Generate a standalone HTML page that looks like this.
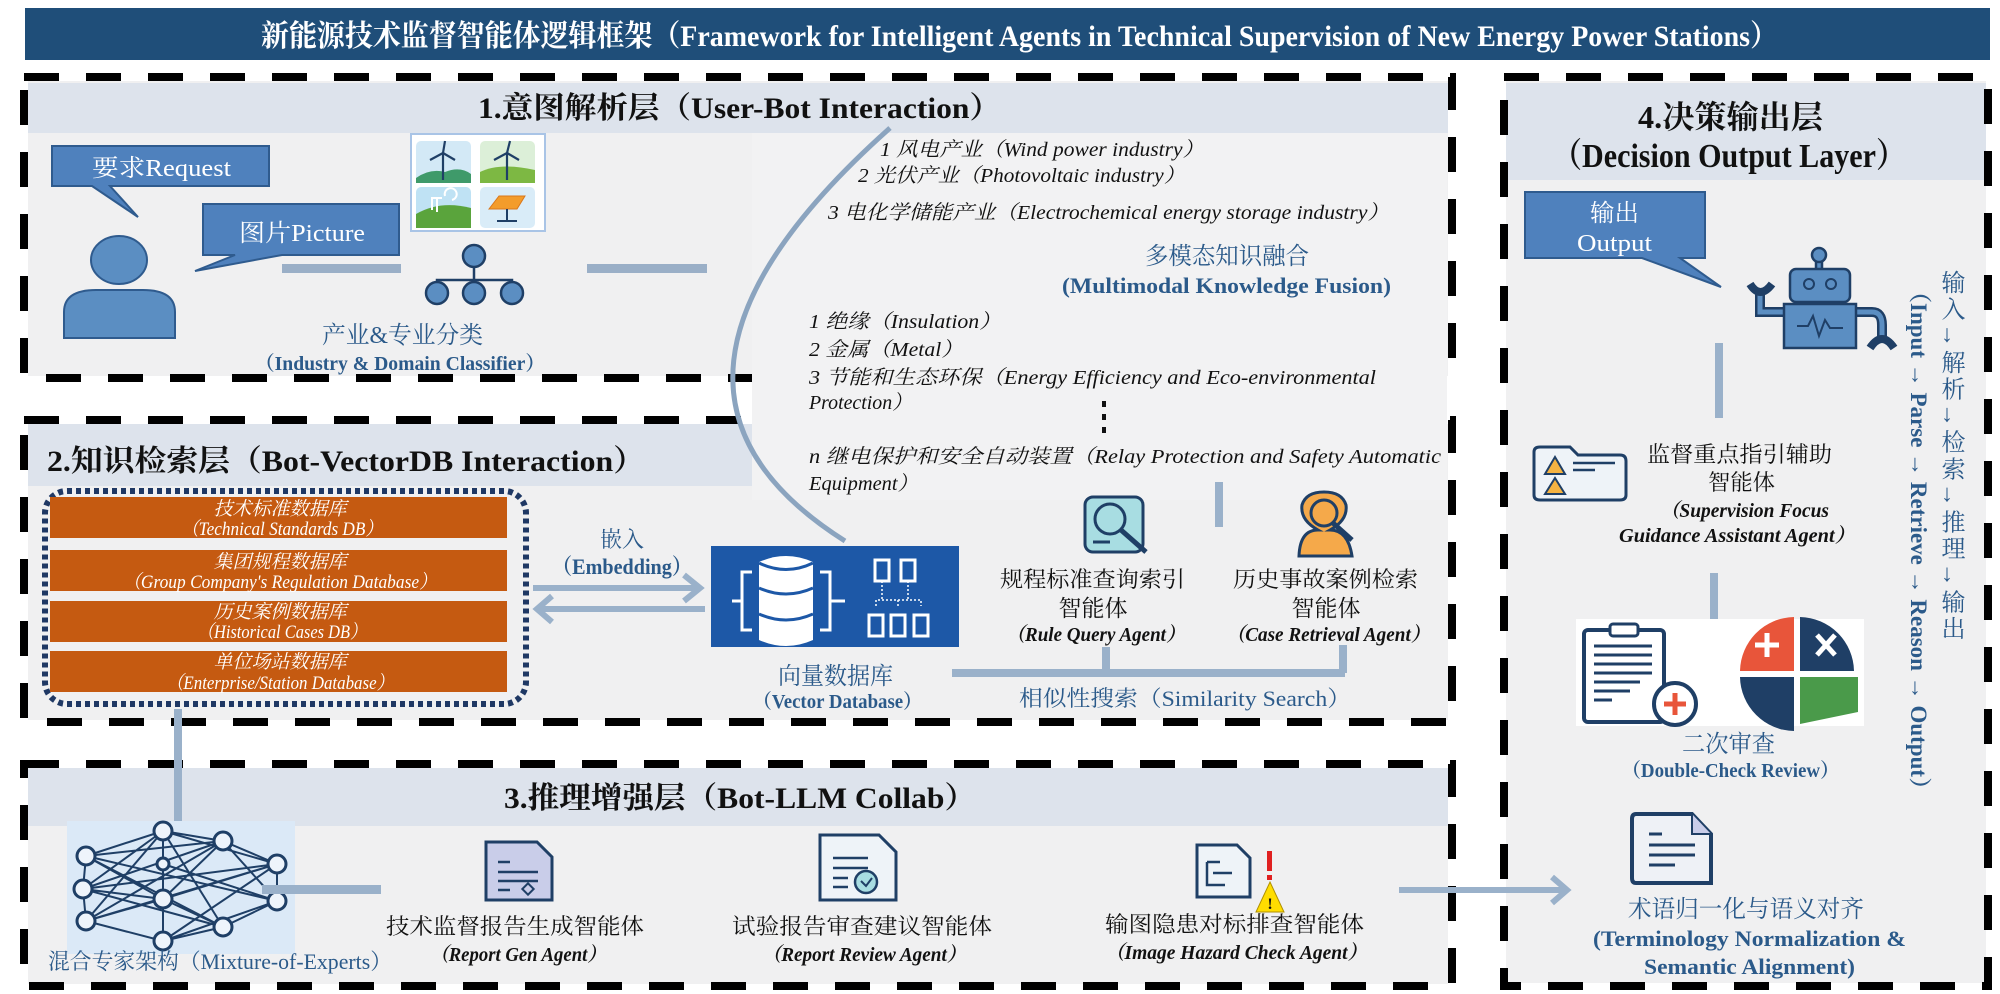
<!DOCTYPE html>
<html><head><meta charset="utf-8">
<style>
html,body{margin:0;padding:0;background:#fff;width:2000px;height:994px;overflow:hidden;position:relative}
svg{position:absolute;left:0;top:0}
text{font-family:"Liberation Serif","Noto Serif CJK SC",serif}
.b{font-weight:bold}
.i{font-style:italic}
.blue{fill:#2b5a8a}
.vt{position:absolute;writing-mode:vertical-rl;font-family:"Liberation Serif","Noto Serif CJK SC",serif;color:#2b5a8a;white-space:nowrap}
</style></head><body>
<svg width="2000" height="994" viewBox="0 0 2000 994" xmlns="http://www.w3.org/2000/svg">
<rect x="25" y="8" width="1965" height="52" fill="#1f4e79"/>
<text x="261" y="46" font-size="30" fill="#fff" class="b" textLength="1517" lengthAdjust="spacingAndGlyphs">新能源技术监督智能体逻辑框架（Framework for Intelligent Agents in Technical Supervision of New Energy Power Stations）</text>

<rect x="28" y="81" width="1420" height="295" fill="#f0f0f1"/>
<rect x="28" y="83" width="1420" height="50" fill="#dde3ec"/>
<rect x="28" y="424" width="1420" height="296" fill="#f0f0f1"/>
<rect x="28" y="424" width="724" height="62" fill="#dde3ec"/>
<rect x="28" y="768" width="1420" height="216" fill="#f0f0f1"/>
<rect x="28" y="768" width="1420" height="58" fill="#dde3ec"/>
<rect x="1506" y="81" width="480" height="902" fill="#f0f0f1"/>
<rect x="1506" y="83" width="480" height="97" fill="#dde3ec"/>

<g fill="none" stroke="#000" stroke-width="8" stroke-dasharray="35 27">
<rect x="24" y="77" width="1428" height="301"/>
<rect x="24" y="420" width="1428" height="302"/>
<rect x="24" y="764" width="1428" height="222"/>
<rect x="1504" y="77" width="484" height="909"/>
</g>
<rect x="752" y="133" width="695" height="367" fill="#f2f2f3"/>

<text x="478" y="118" font-size="30" class="b" fill="#111" textLength="523" lengthAdjust="spacingAndGlyphs">1.意图解析层（User-Bot Interaction）</text>
<text x="47" y="471" font-size="30" class="b" fill="#111" textLength="598" lengthAdjust="spacingAndGlyphs">2.知识检索层（Bot-VectorDB Interaction）</text>
<text x="504" y="808" font-size="30" class="b" fill="#111" textLength="472" lengthAdjust="spacingAndGlyphs">3.推理增强层（Bot-LLM Collab）</text>
<text x="1638" y="128" font-size="32" class="b" fill="#111" textLength="185" lengthAdjust="spacingAndGlyphs">4.决策输出层</text>
<text x="1552" y="167" font-size="34" class="b" fill="#111" textLength="354" lengthAdjust="spacingAndGlyphs">（Decision Output Layer）</text>

<path d="M52 146 H269 V186 H110 L138 217 L92 186 H52 Z" fill="#4f81bd" stroke="#2f5b8e" stroke-width="2"/>
<text x="92" y="176" font-size="24" fill="#fff" textLength="139" lengthAdjust="spacingAndGlyphs">要求Request</text>
<path d="M203 204 H399 V255 H282 L195 271 L235 255 H203 Z" fill="#4f81bd" stroke="#2f5b8e" stroke-width="2"/>
<text x="239" y="241" font-size="24" fill="#fff" textLength="126" lengthAdjust="spacingAndGlyphs">图片Picture</text>
<ellipse cx="119" cy="260" rx="28" ry="24" fill="#5b8ec2" stroke="#2f5b8e" stroke-width="2"/>
<path d="M64 338 V312 Q64 290 96 290 H143 Q175 290 175 312 V338 Z" fill="#5b8ec2" stroke="#2f5b8e" stroke-width="2"/>
<rect x="282" y="264" width="119" height="9" fill="#9aafc7"/>
<rect x="587" y="264" width="120" height="9" fill="#9aafc7"/>
<g stroke="#1f3f66" stroke-width="2.5" fill="#5b8ec2">
<line x1="474" y1="268" x2="474" y2="280"/><path d="M437 290 V280 H512 V290" fill="none"/><line x1="474" y1="280" x2="474" y2="290"/>
<circle cx="474" cy="256" r="11"/><circle cx="437" cy="293" r="11"/><circle cx="474" cy="293" r="11"/><circle cx="512" cy="293" r="11"/>
</g>
<rect x="411" y="134" width="134" height="97" fill="#fff" stroke="#a9c4e6" stroke-width="2"/>
<g>
<rect x="416" y="141" width="55" height="42" rx="5" fill="#d3e9f6"/>
<path d="M416 178 Q430 168 445 172 Q460 166 471 174 V183 H416Z" fill="#3f9a6a"/>
<rect x="480" y="141" width="55" height="42" rx="5" fill="#dcefd8"/>
<path d="M480 172 Q500 162 535 170 V183 H480Z" fill="#7db843"/>
<rect x="416" y="187" width="55" height="41" rx="5" fill="#bfe2f4"/>
<path d="M416 214 Q440 200 471 208 V228 H416Z" fill="#5aa43c"/>
<rect x="480" y="187" width="55" height="41" rx="5" fill="#d9ecf8"/>
<polygon points="489,209 499,196 525,196 517,209" fill="#f39c2b" stroke="#d9771b"/>
<line x1="507" y1="209" x2="507" y2="220" stroke="#1f3f66" stroke-width="2"/><line x1="497" y1="221" x2="517" y2="221" stroke="#1f3f66" stroke-width="2"/>
<g stroke="#1f3f66" stroke-width="2.2"><line x1="443" y1="153" x2="443" y2="180"/><line x1="443" y1="153" x2="445" y2="141"/><line x1="443" y1="153" x2="430" y2="160"/><line x1="443" y1="153" x2="455" y2="160"/>
<line x1="507" y1="153" x2="507" y2="180"/><line x1="507" y1="153" x2="510" y2="141"/><line x1="507" y1="153" x2="494" y2="160"/><line x1="507" y1="153" x2="519" y2="160"/></g>
<path d="M432 210 V198 H442 M437 198 V212 M445 196 A6 6 0 1 1 452 200" stroke="#fff" stroke-width="2" fill="none"/>
</g>
<text x="322" y="343" font-size="24" class="blue" textLength="161" lengthAdjust="spacingAndGlyphs">产业&amp;专业分类</text>
<text x="255" y="370" font-size="20" class="b blue" textLength="290" lengthAdjust="spacingAndGlyphs">（Industry &amp; Domain Classifier）</text>

<g font-size="20" class="i" fill="#111">
<text x="880" y="156" textLength="324" lengthAdjust="spacingAndGlyphs">1 风电产业（Wind power industry）</text>
<text x="858" y="182" textLength="327" lengthAdjust="spacingAndGlyphs">2 光伏产业（Photovoltaic industry）</text>
<text x="828" y="219" textLength="561" lengthAdjust="spacingAndGlyphs">3 电化学储能产业（Electrochemical energy storage industry）</text>
<text x="809" y="328" textLength="192" lengthAdjust="spacingAndGlyphs">1 绝缘（Insulation）</text>
<text x="809" y="356" textLength="154" lengthAdjust="spacingAndGlyphs">2 金属（Metal）</text>
<text x="809" y="384" textLength="567" lengthAdjust="spacingAndGlyphs">3 节能和生态环保（Energy Efficiency and Eco-environmental</text>
<text x="809" y="409" textLength="103" lengthAdjust="spacingAndGlyphs">Protection）</text>
<text x="809" y="463" textLength="632" lengthAdjust="spacingAndGlyphs">n 继电保护和安全自动装置（Relay Protection and Safety Automatic</text>
<text x="809" y="490" textLength="109" lengthAdjust="spacingAndGlyphs">Equipment）</text>
</g>
<g fill="#111"><rect x="1102" y="401" width="4" height="6"/><rect x="1102" y="414" width="4" height="6"/><rect x="1102" y="427" width="4" height="6"/></g>
<text x="1145" y="264" font-size="24" class="blue" textLength="164" lengthAdjust="spacingAndGlyphs">多模态知识融合</text>
<text x="1062" y="293" font-size="22" class="b blue" textLength="329" lengthAdjust="spacingAndGlyphs">(Multimodal Knowledge Fusion)</text>
<path d="M890 128 Q600 386 845 541" fill="none" stroke="#8ba4bf" stroke-width="5"/>

<rect x="45" y="491" width="481" height="213" rx="22" fill="none" stroke="#1f3864" stroke-width="6" stroke-dasharray="5 4"/>
<g fill="#c55a11">
<rect x="50" y="497" width="457" height="41"/><rect x="50" y="550" width="457" height="41"/>
<rect x="50" y="601" width="457" height="41"/><rect x="50" y="651" width="457" height="41"/>
</g>
<g fill="#fff" class="i" font-size="19" text-anchor="middle">
<text x="280" y="515">技术标准数据库</text><text x="282" y="535" textLength="201" lengthAdjust="spacingAndGlyphs">（Technical Standards DB）</text>
<text x="280" y="568">集团规程数据库</text><text x="280" y="588" textLength="313" lengthAdjust="spacingAndGlyphs">（Group Company's Regulation Database）</text>
<text x="280" y="618">历史案例数据库</text><text x="282" y="638" textLength="169" lengthAdjust="spacingAndGlyphs">（Historical Cases DB）</text>
<text x="280" y="668">单位场站数据库</text><text x="280" y="689" textLength="227" lengthAdjust="spacingAndGlyphs">（Enterprise/Station Database）</text>
</g>
<text x="622" y="547" font-size="22" class="blue" text-anchor="middle">嵌入</text>
<text x="552" y="574" font-size="22" class="b blue" textLength="140" lengthAdjust="spacingAndGlyphs">（Embedding）</text>
<g stroke="#9ab1ca" stroke-width="6" fill="none">
<line x1="533" y1="588" x2="698" y2="588"/><polyline points="684,575 700,588 684,601"/>
<line x1="540" y1="609" x2="705" y2="609"/><polyline points="552,596 537,609 552,622"/>
</g>
<rect x="711" y="546" width="248" height="101" fill="#1d58a7"/>
<path d="M759 562 Q786 550 813 562 V640 Q786 652 759 640 Z" fill="#fff"/>
<g stroke="#1d58a7" stroke-width="3" fill="none"><path d="M759 563 Q786 576 813 563"/><path d="M759 588 Q786 600 813 588"/><path d="M759 614 Q786 626 813 614"/></g>
<g stroke="#fff" stroke-width="3" fill="none"><path d="M752 572 H742 V630 H752"/><path d="M820 572 H830 V630 H820"/><line x1="732" y1="601" x2="742" y2="601"/><line x1="830" y1="601" x2="845" y2="601"/>
<rect x="875" y="560" width="14" height="21"/><rect x="901" y="560" width="14" height="21"/><rect x="869" y="615" width="14" height="21"/><rect x="891" y="615" width="14" height="21"/><rect x="914" y="615" width="14" height="21"/>
<path d="M876 606 V600 H921 V606 M898 600 V606 M882 581 V600 M908 581 V600" stroke-width="1.5" stroke-dasharray="2 2"/></g>
<text x="778" y="684" font-size="24" class="blue" textLength="115" lengthAdjust="spacingAndGlyphs">向量数据库</text>
<text x="753" y="708" font-size="20" class="b blue" textLength="169" lengthAdjust="spacingAndGlyphs">（Vector Database）</text>
<g fill="#9ab1ca"><rect x="952" y="669" width="393" height="8"/><rect x="1102" y="647" width="8" height="26"/><rect x="1339" y="645" width="8" height="28"/><rect x="1215" y="482" width="8" height="45"/></g>
<rect x="1085" y="497" width="58" height="55" rx="8" fill="#a8dde2" stroke="#1f3f66" stroke-width="3"/>
<circle cx="1110" cy="519" r="15" fill="#a8dde2" stroke="#1f3f66" stroke-width="3"/>
<line x1="1121" y1="530" x2="1146" y2="552" stroke="#1f3f66" stroke-width="5"/>
<line x1="1093" y1="542" x2="1110" y2="542" stroke="#1f3f66" stroke-width="3"/>
<path d="M1299 556 Q1300 530 1318 530 Q1300 520 1302 505 Q1306 492 1324 492 Q1342 492 1346 505 Q1348 520 1330 530 Q1348 530 1352 556 Z" fill="#f5a94a" stroke="#1f3f66" stroke-width="3"/>
<circle cx="1324" cy="513" r="13" fill="#f5a94a" stroke="#1f3f66" stroke-width="3"/>
<line x1="1333" y1="523" x2="1352" y2="540" stroke="#1f3f66" stroke-width="5"/>
<g font-size="22" fill="#111">
<text x="1000" y="587" textLength="185" lengthAdjust="spacingAndGlyphs">规程标准查询索引</text>
<text x="1093" y="616" text-anchor="middle" font-size="23">智能体</text>
<text x="1006" y="641" class="i b" font-size="20" textLength="179" lengthAdjust="spacingAndGlyphs">（Rule Query Agent）</text>
<text x="1233" y="587" textLength="185" lengthAdjust="spacingAndGlyphs">历史事故案例检索</text>
<text x="1326" y="616" text-anchor="middle" font-size="23">智能体</text>
<text x="1226" y="641" class="i b" font-size="20" textLength="204" lengthAdjust="spacingAndGlyphs">（Case Retrieval Agent）</text>
</g>
<text x="1019" y="706" font-size="22" class="blue" textLength="332" lengthAdjust="spacingAndGlyphs">相似性搜索（Similarity Search）</text>

<rect x="174" y="709" width="8" height="113" fill="#9ab1ca"/>
<rect x="67" y="821" width="228" height="133" fill="#dbe9f7"/>
<g stroke="#1f3f66" stroke-width="2" fill="none">
<path d="M163 831 L86 856 M163 831 L223 841 M163 831 L277 864 M163 831 L83 889 M163 831 L163 864 M163 831 L223 927 M163 831 L86 921
M223 841 L277 864 M223 841 L86 856 M223 841 L163 899 M223 841 L277 901 M223 841 L83 889
M86 856 L83 889 M86 856 L163 899 M86 856 L277 901 M86 856 L223 927
M277 864 L277 901 M277 864 L163 899 M277 864 L86 921 M277 864 L163 941
M83 889 L86 921 M83 889 L163 899 M83 889 L223 927 M83 889 L277 864
M163 899 L163 941 M163 899 L223 927 M163 899 L86 921 M163 864 L163 899 M163 864 L277 901
M277 901 L223 927 M277 901 L163 941 M86 921 L163 941 M223 927 L163 941 M86 921 L223 841"/>
</g>
<g fill="#eef4fb" stroke="#1f3f66" stroke-width="3">
<circle cx="163" cy="831" r="9"/><circle cx="223" cy="841" r="9"/><circle cx="86" cy="856" r="9"/><circle cx="277" cy="864" r="9"/><circle cx="83" cy="889" r="9"/><circle cx="163" cy="899" r="9"/><circle cx="277" cy="901" r="9"/><circle cx="86" cy="921" r="9"/><circle cx="223" cy="927" r="9"/><circle cx="163" cy="941" r="9"/><circle cx="163" cy="864" r="6"/>
</g>
<rect x="262" y="885" width="119" height="9" fill="#9ab1ca"/>
<text x="48" y="969" font-size="22" class="blue" textLength="344" lengthAdjust="spacingAndGlyphs">混合专家架构（Mixture-of-Experts）</text>
<path d="M486 842 H537 L552 857 V900 H486 Z" fill="#c9cde9" stroke="#1f3f66" stroke-width="3"/>
<g stroke="#1f3f66" stroke-width="2.5"><line x1="498" y1="862" x2="510" y2="862"/><line x1="498" y1="872" x2="538" y2="872"/><line x1="498" y1="881" x2="538" y2="881"/><line x1="498" y1="890" x2="510" y2="890"/></g>
<rect x="524" y="885" width="8" height="8" transform="rotate(45 528 889)" fill="none" stroke="#1f3f66" stroke-width="2"/>
<text x="386" y="934" font-size="22" fill="#111" textLength="258" lengthAdjust="spacingAndGlyphs">技术监督报告生成智能体</text>
<text x="430" y="961" font-size="20" class="i b" fill="#111" textLength="176" lengthAdjust="spacingAndGlyphs">（Report Gen Agent）</text>
<path d="M820 835 H879 L896 852 V900 H820 Z" fill="#eef3f8" stroke="#1f3f66" stroke-width="3"/>
<g stroke="#1f3f66" stroke-width="2.5"><line x1="833" y1="858" x2="868" y2="858"/><line x1="833" y1="868" x2="868" y2="868"/><line x1="833" y1="878" x2="848" y2="878"/><line x1="833" y1="887" x2="848" y2="887"/></g>
<circle cx="866" cy="882" r="11" fill="#a8dde2" stroke="#1f3f66" stroke-width="2.5"/>
<polyline points="861,881 866,886 872,878" fill="none" stroke="#1f3f66" stroke-width="2"/>
<text x="732" y="934" font-size="22" fill="#111" textLength="260" lengthAdjust="spacingAndGlyphs">试验报告审查建议智能体</text>
<text x="762" y="961" font-size="20" class="i b" fill="#111" textLength="204" lengthAdjust="spacingAndGlyphs">（Report Review Agent）</text>
<path d="M1197 845 H1237 L1250 858 V897 H1197 Z" fill="#eef3f8" stroke="#1f3f66" stroke-width="3"/>
<path d="M1207 862 H1220 M1207 862 V885 H1225 M1213 873 H1232" stroke="#1f3f66" stroke-width="2.5" fill="none"/>
<polygon points="1270,882 1284,912 1256,912" fill="#ffdd00" stroke="#b09000" stroke-width="1"/>
<text x="1270" y="909" font-size="16" text-anchor="middle" class="b" fill="#111">!</text>
<rect x="1267" y="851" width="5" height="20" fill="#e02020"/><rect x="1267" y="875" width="5" height="5" fill="#e02020"/>
<text x="1105" y="932" font-size="22" fill="#111" textLength="259" lengthAdjust="spacingAndGlyphs">输图隐患对标排查智能体</text>
<text x="1105" y="959" font-size="20" class="i b" fill="#111" textLength="262" lengthAdjust="spacingAndGlyphs">（Image Hazard Check Agent）</text>
<line x1="1399" y1="890" x2="1564" y2="890" stroke="#9ab1ca" stroke-width="6"/>
<polyline points="1552,877 1567,890 1552,903" fill="none" stroke="#9ab1ca" stroke-width="6"/>

<path d="M1525 192 H1705 V258 H1680 L1721 287 L1642 258 H1525 Z" fill="#4f81bd" stroke="#2f5b8e" stroke-width="2"/>
<text x="1590" y="221" font-size="24" fill="#fff" textLength="49" lengthAdjust="spacingAndGlyphs">输出</text>
<text x="1577" y="251" font-size="24" fill="#fff" textLength="75" lengthAdjust="spacingAndGlyphs">Output</text>
<g fill="#5b8ec2" stroke="#1f3f66" stroke-width="2.5">
<rect x="1816" y="258" width="6" height="14"/>
<circle cx="1819" cy="255" r="7"/>
<rect x="1790" y="269" width="60" height="33" rx="6"/>
<path d="M1784 312 H1760 V290" fill="none" stroke="#1f3f66" stroke-width="10"/>
<path d="M1784 312 H1760 V290" fill="none" stroke="#5b8ec2" stroke-width="5"/>
<path d="M1856 312 H1872 Q1882 312 1882 325 V338" fill="none" stroke="#1f3f66" stroke-width="10"/>
<path d="M1856 312 H1872 Q1882 312 1882 325 V338" fill="none" stroke="#5b8ec2" stroke-width="5"/>
<rect x="1784" y="304" width="72" height="44"/>
<path d="M1750 284 Q1760 300 1772 284" fill="none" stroke-width="8"/>
<path d="M1870 348 Q1882 330 1894 348" fill="none" stroke-width="8"/>
</g>
<g fill="none" stroke="#1f3f66" stroke-width="2"><circle cx="1809" cy="284" r="5"/><circle cx="1831" cy="284" r="5"/>
<polyline points="1797,326 1808,326 1813,316 1819,336 1825,320 1830,328 1843,328"/></g>
<rect x="1715" y="343" width="8" height="75" fill="#9ab1ca"/>
<path d="M1534 452 Q1534 447 1540 447 H1570 L1578 455 H1620 Q1626 455 1626 461 V495 Q1626 500 1620 500 H1540 Q1534 500 1534 495 Z" fill="#eef3f8" stroke="#1f3f66" stroke-width="3"/>
<polygon points="1555,457 1565,474 1545,474" fill="#f5b342" stroke="#1f3f66" stroke-width="2"/>
<polygon points="1555,478 1565,494 1545,494" fill="#f5b342" stroke="#1f3f66" stroke-width="2"/>
<line x1="1573" y1="463" x2="1615" y2="463" stroke="#1f3f66" stroke-width="2.5"/><line x1="1573" y1="470" x2="1595" y2="470" stroke="#1f3f66" stroke-width="2.5"/>
<text x="1647" y="462" font-size="22" fill="#111" textLength="185" lengthAdjust="spacingAndGlyphs">监督重点指引辅助</text>
<text x="1708" y="490" font-size="22" fill="#111" textLength="67" lengthAdjust="spacingAndGlyphs">智能体</text>
<text x="1660" y="517" font-size="20" class="i b" fill="#111" textLength="169" lengthAdjust="spacingAndGlyphs">（Supervision Focus</text>
<text x="1619" y="542" font-size="20" class="i b" fill="#111" textLength="236" lengthAdjust="spacingAndGlyphs">Guidance Assistant Agent）</text>
<rect x="1710" y="573" width="8" height="61" fill="#9ab1ca"/>
<rect x="1576" y="619" width="288" height="107" fill="#fff"/>
<rect x="1584" y="630" width="80" height="92" rx="4" fill="#fff" stroke="#1f3f66" stroke-width="4"/>
<rect x="1610" y="624" width="28" height="12" rx="3" fill="#fff" stroke="#1f3f66" stroke-width="3"/>
<g stroke="#1f3f66" stroke-width="3"><line x1="1594" y1="646" x2="1652" y2="646"/><line x1="1594" y1="655" x2="1652" y2="655"/><line x1="1594" y1="664" x2="1652" y2="664"/><line x1="1594" y1="673" x2="1652" y2="673"/><line x1="1594" y1="682" x2="1640" y2="682"/><line x1="1594" y1="691" x2="1630" y2="691"/><line x1="1594" y1="700" x2="1612" y2="700"/></g>
<circle cx="1675" cy="704" r="21" fill="#fff" stroke="#1f3f66" stroke-width="4"/>
<path d="M1675 693 V715 M1664 704 H1686" stroke="#e8553a" stroke-width="5"/>
<path d="M1794 671 H1740 A55 55 0 0 1 1794 617 Z" fill="#e8553a"/>
<path d="M1800 671 V617 A55 55 0 0 1 1854 671 Z" fill="#1f3f66"/>
<path d="M1794 677 V731 A55 55 0 0 1 1740 677 Z" fill="#1f3f66"/>
<path d="M1800 677 H1858 V712 L1800 724 Z" fill="#4a9a4a"/>
<path d="M1767 633 V657 M1755 645 H1779" stroke="#fff" stroke-width="5"/>
<path d="M1817 635 L1835 655 M1835 635 L1817 655" stroke="#fff" stroke-width="5"/>
<text x="1682" y="752" font-size="24" class="blue" textLength="93" lengthAdjust="spacingAndGlyphs">二次审查</text>
<text x="1622" y="777" font-size="20" class="b blue" textLength="217" lengthAdjust="spacingAndGlyphs">（Double-Check Review）</text>
<path d="M1636 814 H1692 L1711 834 V883 H1636 Q1632 883 1632 878 V819 Q1632 814 1636 814 Z" fill="#eef1f6" stroke="#1f3f66" stroke-width="4"/>
<path d="M1692 814 V834 H1711" fill="#c9cde9" stroke="#1f3f66" stroke-width="2"/>
<g stroke="#1f3f66" stroke-width="3"><line x1="1649" y1="834" x2="1662" y2="834"/><line x1="1649" y1="845" x2="1695" y2="845"/><line x1="1649" y1="855" x2="1695" y2="855"/><line x1="1649" y1="865" x2="1675" y2="865"/></g>
<text x="1628" y="917" font-size="24" class="blue" textLength="236" lengthAdjust="spacingAndGlyphs">术语归一化与语义对齐</text>
<text x="1593" y="946" font-size="22" class="b blue" textLength="313" lengthAdjust="spacingAndGlyphs">(Terminology Normalization &amp;</text>
<text x="1644" y="974" font-size="22" class="b blue" textLength="211" lengthAdjust="spacingAndGlyphs">Semantic Alignment)</text>
</svg>
<div class="vt" style="left:1936px;top:270px;font-size:24px;letter-spacing:2.6px;line-height:28px">输入→解析→检索→推理→输出</div>
<div class="vt" style="left:1904px;top:280px;font-size:23px;font-weight:bold;line-height:28px">（Input → Parse → Retrieve → Reason → Output）</div>
</body></html>
